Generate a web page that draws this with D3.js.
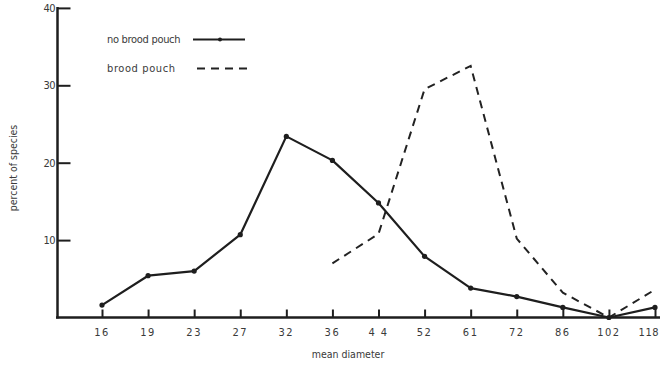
<!DOCTYPE html>
<html>
<head>
<meta charset="utf-8">
<script src="https://cdn.jsdelivr.net/npm/d3@7"></script>
<style>
  html, body { margin: 0; padding: 0; background: #fff; }
  svg { display: block; }
  text { font-family: "DejaVu Sans Condensed", "Liberation Sans Narrow", "DejaVu Sans", sans-serif; fill: #3a3a3a; }
</style>
</head>
<body>
<svg id="chart" width="660" height="371"></svg>
<script>
// Size classes (mean diameter) shown along the x axis
const diameters = ["16", "19", "23", "27", "32", "36", "44", "52", "61", "72", "86", "102", "118"];
const diameterLabels = ["16", "19", "23", "27", "32", "36", "4 4", "52", "61", "72", "86", "102", "118"];

// Percent of species per size class
const noBroodPouch = [1.6, 5.4, 6.0, 10.7, 23.4, 20.3, 14.8, 7.9, 3.8, 2.7, 1.3, 0, 1.3];
const broodPouch   = [null, null, null, null, null, 7.0, 10.8, 29.5, 32.5, 10.2, 3.2, 0, 3.6];

const yTicks = [10, 20, 30, 40];

const svg = d3.select("#chart");

const x = d3.scalePoint().domain(diameters).range([102, 655]);
const y = d3.scaleLinear().domain([0, 40]).range([317.5, 7.9]);

const ink = "#1e1e1e";

// Axes
const yAxis = d3.axisRight(y).tickValues(yTicks).tickSize(13).tickFormat("");
svg.append("g").attr("transform", "translate(57.5,0)").call(yAxis)
  .call(g => g.select(".domain").remove())
  .call(g => g.selectAll(".tick line").attr("stroke", ink).attr("stroke-width", 2));

svg.selectAll(".ylab").data(yTicks).join("text")
  .attr("class", "ylab")
  .attr("x", 55).attr("y", d => y(d) + 4)
  .attr("text-anchor", "end")
  .attr("font-size", 11)
  .style("letter-spacing", "-0.5px")
  .text(d => d);

const xAxis = d3.axisTop(x).tickSize(8).tickFormat("");
svg.append("g").attr("transform", "translate(0,317.5)").call(xAxis)
  .call(g => g.select(".domain").remove())
  .call(g => g.selectAll(".tick line").attr("stroke", ink).attr("stroke-width", 2));

// The last label sits against the right edge, so it is end-anchored
const lastKey = diameters[diameters.length - 1];
svg.selectAll(".xlab").data(diameters).join("text")
  .attr("class", "xlab")
  .attr("x", d => d === lastKey ? 659 : x(d)).attr("y", 336)
  .attr("text-anchor", d => d === lastKey ? "end" : "middle")
  .attr("font-size", 11)
  .style("letter-spacing", d => d === lastKey ? "0.5px" : "1.5px")
  .text((d, i) => diameterLabels[i]);

// Axis lines
svg.append("line").attr("x1", 57.5).attr("x2", 57.5).attr("y1", 7).attr("y2", 318.5)
  .attr("stroke", ink).attr("stroke-width", 2.5);
svg.append("line").attr("x1", 56).attr("x2", 660).attr("y1", 317.5).attr("y2", 317.5)
  .attr("stroke", ink).attr("stroke-width", 2.5);

// Axis titles
svg.append("text").attr("x", 348).attr("y", 358)
  .attr("text-anchor", "middle").attr("font-size", 10.5)
  .text("mean diameter");
svg.append("text")
  .attr("transform", "translate(17,168) rotate(-90)")
  .attr("text-anchor", "middle").attr("font-size", 10.5)
  .text("percent of species");

// Series lines
const line = d3.line()
  .defined(d => d.v !== null)
  .x(d => x(d.k)).y(d => y(d.v));

const solidPts = diameters.map((k, i) => ({ k, v: noBroodPouch[i] }));
const dashPts = diameters.map((k, i) => ({ k, v: broodPouch[i] }));

svg.append("path").datum(dashPts)
  .attr("d", line).attr("fill", "none")
  .attr("stroke", "#222").attr("stroke-width", 2)
  .attr("stroke-dasharray", "8,6");

svg.append("path").datum(solidPts)
  .attr("d", line).attr("fill", "none")
  .attr("stroke", ink).attr("stroke-width", 2.2)
  .attr("stroke-linejoin", "round");

svg.selectAll(".pt").data(solidPts).join("circle")
  .attr("class", "pt")
  .attr("cx", d => x(d.k)).attr("cy", d => y(d.v))
  .attr("r", 2.6).attr("fill", ink);

// Legend
const legend = svg.append("g");
legend.append("text").attr("x", 107).attr("y", 43).attr("font-size", 11)
  .style("letter-spacing", "-0.3px").text("no brood pouch");
legend.append("line").attr("x1", 193).attr("x2", 245).attr("y1", 39.5).attr("y2", 39.5)
  .attr("stroke", ink).attr("stroke-width", 2.2);
legend.append("circle").attr("cx", 220).attr("cy", 39.5).attr("r", 2).attr("fill", ink);
legend.append("text").attr("x", 107).attr("y", 72).attr("font-size", 11)
  .style("letter-spacing", "0.6px").text("brood pouch");
legend.append("line").attr("x1", 197).attr("x2", 249).attr("y1", 68.5).attr("y2", 68.5)
  .attr("stroke", "#222").attr("stroke-width", 2.2)
  .attr("stroke-dasharray", "8,6");
</script>
</body>
</html>
